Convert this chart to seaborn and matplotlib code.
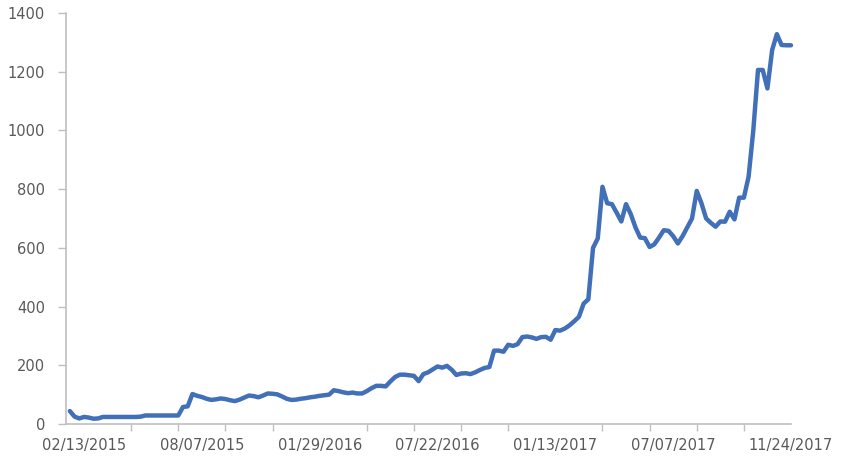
import numpy as np
import pandas as pd
import matplotlib
matplotlib.use("Agg")
import matplotlib.pyplot as plt
import seaborn as sns

# weekly values, first point three weeks before 02/13/2015
values = [44, 25, 19,
          24, 22, 18, 19, 24, 24, 24, 24, 24, 24, 24, 24, 25, 29, 29, 29, 29, 29, 29, 29, 29,
          58, 60, 102, 96, 92, 86, 82, 84, 87, 85, 81, 78, 83, 90, 97, 95, 91, 97, 104, 103,
          101, 94, 86, 82, 83, 86, 88, 91, 93, 96, 98, 100, 115, 112, 108, 105, 107, 104, 104,
          112, 122, 130, 130, 128, 145, 160, 168, 168, 166, 164, 146, 170, 176, 186, 196, 192,
          198, 185, 167, 172, 173, 170, 176, 184, 191, 194, 250, 250, 246, 270, 266, 272, 296,
          298, 295, 290, 296, 297, 287, 320, 318, 325, 336, 350, 365, 410, 425, 600, 632, 808,
          752, 749, 720, 690, 749, 715, 670, 635, 633, 603, 612, 635, 660, 658, 640, 615, 640,
          670, 700, 794, 752, 700, 685, 672, 690, 689, 723, 697, 771, 771, 842, 1000, 1206,
          1206, 1143, 1274, 1328, 1291, 1290, 1290]
start_index = -3

tick_labels = ["02/13/2015", "08/07/2015", "01/29/2016", "07/22/2016",
               "01/13/2017", "07/07/2017", "11/24/2017"]
label_step = 25
mark_step = 10

sns.set_style("ticks")
plt.rcParams["font.family"] = ["DejaVu Sans"]

df = pd.DataFrame({"week": np.arange(start_index, start_index + len(values)),
                   "value": values})

fig = plt.figure(figsize=(8.44, 4.57), dpi=100)
ax = fig.add_axes([66 / 844, 1 - 424 / 457, (791 - 66) / 844, (424 - 13) / 457])

sns.lineplot(data=df, x="week", y="value", ax=ax, color="#4170B8", lw=3.2,
             solid_joinstyle="round", solid_capstyle="round", clip_on=False)

last = len(tick_labels) - 1
ax.set_xlim(-3.82, last * label_step)
ax.set_ylim(0, 1400)

ax.set_xticks(np.arange(0, last * label_step + 1, label_step))
ax.set_xticklabels(tick_labels)
ax.set_xticks(np.arange(0, last * label_step + 1, mark_step), minor=True)
ax.set_yticks(np.arange(0, 1401, 200))

gray = "#BFBFBF"
text_col = "#595959"
ax.tick_params(axis="x", which="major", length=0, pad=10, labelsize=10.5, labelcolor=text_col)
ax.tick_params(axis="x", which="minor", length=5, width=1, color=gray)
ax.tick_params(axis="y", length=6, width=1, color=gray, pad=9, labelsize=10.5, labelcolor=text_col)

sns.despine(ax=ax)
for side in ["left", "bottom"]:
    ax.spines[side].set_color(gray)
    ax.spines[side].set_linewidth(1.2)

ax.set_xlabel("")
ax.set_ylabel("")

fig.savefig("out.png", dpi=100)
